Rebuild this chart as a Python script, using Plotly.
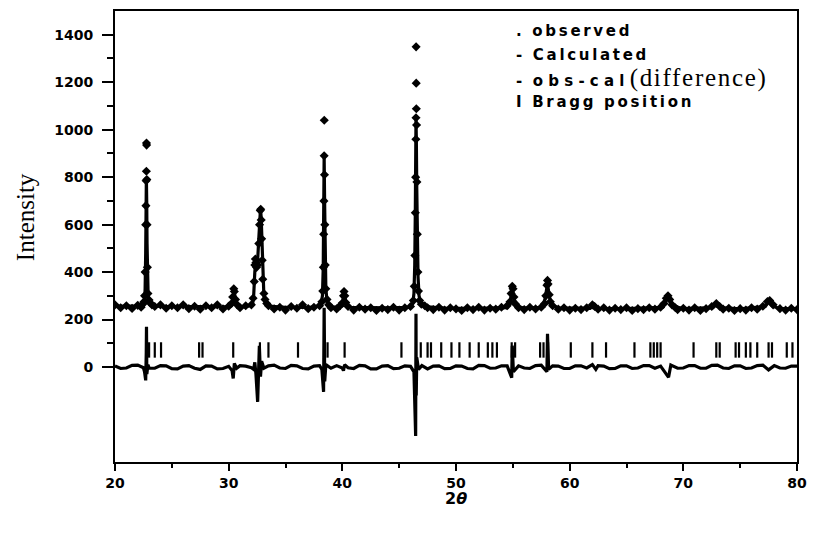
import plotly.graph_objects as go

# ---------------- data ----------------
obs_x = [20.0, 20.5, 21.0, 21.5, 22.0, 22.3, 22.5,
         22.55, 22.6, 22.65, 22.7, 22.72, 22.74, 22.76, 22.77, 22.78, 22.8, 22.82, 22.85, 22.9, 23.0, 23.1, 23.25,
         23.5, 24.0, 24.5, 25.0, 25.5, 26.0, 26.5, 27.0, 27.5, 28.0, 28.5, 29.0, 29.5, 30.0,
         30.25, 30.35, 30.45, 30.5, 30.6, 30.75,
         31.0, 31.5, 32.0,
         32.15, 32.25, 32.3, 32.35, 32.4, 32.45, 32.55, 32.65, 32.72, 32.78, 32.82, 32.86, 32.9, 32.95, 33.0, 33.1, 33.2, 33.35,
         33.5, 34.0, 34.5, 35.0, 35.5, 36.0, 36.5, 37.0, 37.5, 38.0,
         38.2, 38.28, 38.33, 38.36, 38.38, 38.4, 38.41, 38.43, 38.46, 38.5, 38.55, 38.65, 38.8,
         39.0, 39.5, 39.8,
         40.0, 40.1, 40.15, 40.22, 40.3, 40.5,
         41.0, 41.5, 42.0, 42.5, 43.0, 43.5, 44.0, 44.5, 45.0, 45.5, 46.0,
         46.25, 46.33, 46.38, 46.42, 46.45, 46.47, 46.48, 46.49, 46.5, 46.51, 46.53, 46.56, 46.6, 46.65, 46.7, 46.8, 46.95,
         47.25, 47.5, 48.0, 48.5, 49.0, 49.5, 50.0, 50.5, 51.0, 51.5, 52.0, 52.5, 53.0, 53.5, 54.0, 54.5,
         54.75, 54.85, 54.95, 55.02, 55.1, 55.25,
         55.5, 56.0, 56.5, 57.0, 57.5,
         57.8, 57.9, 58.0, 58.05, 58.1, 58.2, 58.3, 58.5,
         59.0, 59.5, 60.0, 60.5, 61.0, 61.5, 62.0, 62.2, 62.5, 63.0, 63.5, 64.0, 64.5, 65.0, 65.5, 66.0, 66.5, 67.0, 67.5, 68.0,
         68.3, 68.5, 68.65, 68.8, 69.0, 69.3,
         69.5, 70.0, 70.5, 71.0, 71.5, 72.0, 72.5, 72.9, 73.2, 73.5, 74.0, 74.5, 75.0, 75.5, 76.0, 76.5, 77.0,
         77.4, 77.6, 77.9, 78.5, 79.0, 79.5, 80.0]
obs_y = [262, 250, 258, 247, 260, 252, 268,
         275, 300, 400, 600, 680, 785, 825, 944, 935, 790, 600, 420, 310, 282, 270, 262,
         255, 262, 248, 258, 250, 262, 246, 256, 244, 258, 250, 262, 245, 256,
         268, 295, 330, 318, 285, 262,
         250, 258, 262,
         290, 360, 430, 455, 440, 420, 430, 520, 600, 660, 665, 620, 540, 450, 370, 310, 285, 268,
         258, 245, 252, 240, 255, 248, 262, 246, 252, 258,
         275, 320, 420, 560, 700, 890, 1040, 810, 600, 430, 330, 285, 262,
         250, 245, 258,
         270, 300, 318, 300, 272, 255,
         240, 252, 244, 250, 238, 248, 242, 252, 240, 250, 255,
         280, 340, 470, 650, 800, 960, 1050, 1349, 1196, 1088, 1020, 780, 560, 400, 320, 280, 265,
         258, 250, 242, 252, 240, 250, 245, 238, 250, 242, 252, 240, 248, 244, 252, 258,
         275, 310, 340, 330, 295, 265,
         250, 242, 252, 245, 252,
         268, 300, 345, 365, 350, 305, 275, 258,
         244, 250, 240, 248, 242, 250, 262, 255, 244, 250, 240, 248, 242, 250, 238, 246, 242, 250, 244, 252,
         268, 290, 300, 285, 262, 250,
         242, 248, 240, 250, 238, 246, 255, 268, 255, 244, 248, 238, 246, 240, 250, 244, 256,
         276, 280, 262, 246, 240, 248, 242]

cal_x = [20.0, 21.0, 22.0, 22.5, 22.6, 22.65, 22.7, 22.73, 22.76, 22.79, 22.82, 22.86, 22.92, 23.0, 23.2,
         24.0, 26.0, 28.0, 30.0, 30.3, 30.4, 30.47, 30.55, 30.65, 30.8, 31.5,
         32.1, 32.2, 32.3, 32.38, 32.45, 32.55, 32.65, 32.75, 32.8, 32.86, 32.93, 33.0, 33.1, 33.25, 33.5,
         35.0, 37.0, 38.1, 38.25, 38.32, 38.37, 38.4, 38.44, 38.48, 38.55, 38.65, 38.85, 39.5,
         40.0, 40.1, 40.17, 40.25, 40.35, 40.6, 42.0, 44.0,
         46.0, 46.2, 46.3, 46.37, 46.42, 46.46, 46.48, 46.51, 46.55, 46.6, 46.66, 46.75, 46.9, 47.2,
         49.0, 52.0, 54.5, 54.8, 54.95, 55.1, 55.3, 56.0, 57.6, 57.85, 58.05, 58.2, 58.4, 59.0,
         61.8, 62.1, 62.4, 65.0, 68.2, 68.45, 68.65, 68.85, 69.1, 70.0,
         72.6, 72.9, 73.2, 75.0, 77.2, 77.5, 77.8, 78.5, 80.0]
cal_y = [256, 256, 256, 258, 275, 330, 480, 640, 800, 700, 520, 360, 290, 268, 260,
         256, 255, 254, 254, 262, 290, 322, 300, 268, 257, 254,
         262, 300, 400, 445, 430, 450, 540, 640, 668, 630, 500, 380, 300, 268, 257,
         252, 251, 258, 300, 420, 650, 885, 700, 480, 330, 280, 258, 251,
         258, 295, 312, 290, 262, 252, 250, 249,
         252, 268, 310, 430, 650, 880, 1045, 960, 750, 540, 380, 300, 268, 255,
         248, 247, 250, 285, 332, 290, 258, 248, 252, 290, 352, 300, 262, 249,
         247, 258, 247, 246, 252, 280, 298, 280, 256, 246,
         250, 265, 250, 245, 255, 278, 258, 246, 245]

diff_x = [20.0, 20.5, 21.0, 21.5, 22.0, 22.5, 22.6, 22.7, 22.75, 22.77, 22.8, 22.9, 23.0, 23.5, 24.0, 24.5, 25.0,
          25.5, 26.0, 26.5, 27.0, 27.5, 28.0, 28.5, 29.0, 29.5, 30.0, 30.3, 30.4, 30.5, 30.7, 31.0, 31.5, 32.0,
          32.2, 32.3, 32.4, 32.55, 32.6, 32.7, 32.8, 32.9, 33.1, 33.5, 34.0, 34.5, 35.0, 35.5, 36.0, 36.5, 37.0,
          37.5, 38.0, 38.2, 38.35, 38.4, 38.45, 38.55, 39.0, 39.5, 40.0, 40.1, 40.2, 40.5, 41.0, 41.5, 42.0,
          42.5, 43.0, 43.5, 44.0, 44.5, 45.0, 45.5, 46.0, 46.3, 46.45, 46.48, 46.5, 46.55, 46.7, 47.0, 47.5,
          48.0, 48.5, 49.0, 49.5, 50.0, 50.5, 51.0, 51.5, 52.0, 52.5, 53.0, 53.5, 54.0, 54.5, 54.9, 54.95,
          55.05, 55.5, 56.0, 56.5, 57.0, 57.5, 58.0, 58.05, 58.15, 58.5, 59.0, 59.5, 60.0, 60.5, 61.0, 61.5,
          62.0, 62.3, 62.5, 63.0, 63.5, 64.0, 64.5, 65.0, 65.5, 66.0, 66.5, 67.0, 67.5, 68.0, 68.5, 68.7,
          68.9, 69.5, 70.0, 70.5, 71.0, 71.5, 72.0, 72.5, 73.0, 73.5, 74.0, 74.5, 75.0, 75.5, 76.0, 76.5,
          77.0, 77.5, 78.0, 78.5, 79.0, 79.5, 80.0]
diff_y = [5, -6, -4, 7, 8, -3, -20, -56, 60, 170, -30, 10, -4, -5, 6, 5, -7,
          -8, 4, 6, -5, -10, 5, 4, -8, -6, 3, -15, -48, 15, -5, 6, 4, -3,
          -10, 20, -30, -147, -60, 90, -40, 25, -5, 5, 8, -4, -6, 7, 5, -6, -8,
          4, 6, -10, -105, 250, -60, 10, -5, 6, -4, -15, 10, -3, -6, 7, 5,
          -8, -8, 4, 6, -7, -5, 5, 3, -20, -290, 225, -120, 40, -10, 6, -8,
          4, 5, -7, -6, 5, 4, -6, -8, 7, 6, -5, -4, 5, 5, -45, 90,
          -20, 5, -4, -6, 6, 8, -20, 140, -10, 5, 4, -6, -6, 5, 5, -4,
          10, -10, 6, 4, -7, -6, 5, 5, -6, -4, 6, 6, -5, 4, -30, -43,
          8, -5, -4, 6, 6, -5, -5, 7, 8, -4, -6, 5, 5, -6, -4, 6,
          8, -12, 6, -4, -5, 4, 4]

bragg_x = [23.0, 23.5, 24.05, 27.4, 27.7, 30.4, 32.75, 33.5, 36.1, 38.7, 40.2, 45.2, 46.9, 47.5, 47.8,
           48.7, 49.6, 50.3, 51.2, 52.0, 52.8, 53.2, 53.6, 54.9, 55.2, 57.4, 57.7, 58.1, 60.1, 62.0,
           63.2, 65.7, 67.1, 67.4, 67.7, 68.0, 70.9, 72.9, 73.2, 74.6, 74.9, 75.5, 75.9, 76.5, 77.5,
           77.8, 79.1, 79.6]
bragg_level = 72

x_ticks = [20, 30, 40, 50, 60, 70, 80]
y_ticks = [0, 200, 400, 600, 800, 1000, 1200, 1400]
y_minor = [100, 300, 500, 700, 900, 1100, 1300]

# ---------------- figure ----------------
fig = go.Figure()
fig.add_trace(go.Scatter(x=diff_x, y=diff_y, mode="lines",
                         line=dict(color="black", width=3.2), showlegend=False))
fig.add_trace(go.Scatter(x=bragg_x, y=[bragg_level] * len(bragg_x), mode="markers",
                         marker=dict(symbol="line-ns", size=11, color="black",
                                     line=dict(color="black", width=2.2)),
                         showlegend=False))
fig.add_trace(go.Scatter(x=cal_x, y=cal_y, mode="lines",
                         line=dict(color="black", width=3.2), showlegend=False))
fig.add_trace(go.Scatter(x=obs_x, y=obs_y, mode="markers",
                         marker=dict(symbol="diamond", size=7, color="black"),
                         showlegend=False))

tick_font = dict(family="DejaVu Sans", size=14, color="black", weight="bold")

fig.update_xaxes(range=[20, 80], tickvals=x_ticks, ticks="outside", ticklen=7, tickwidth=2,
                 tickcolor="black", showline=True, linecolor="black", linewidth=2, mirror=True,
                 showgrid=False, zeroline=False, tickfont=tick_font, ticklabelstandoff=0,
                 minor=dict(dtick=5, tick0=20, ticks="outside", ticklen=4, tickwidth=2, tickcolor="black"))
fig.update_yaxes(range=[-400, 1500], tickvals=y_ticks, ticks="outside", ticklen=11, tickwidth=2,
                 tickcolor="black", showline=True, linecolor="black", linewidth=2, mirror=True,
                 showgrid=False, zeroline=False, tickfont=tick_font, ticklabelstandoff=6,
                 minor=dict(tickvals=y_minor, ticks="outside", ticklen=6, tickwidth=2, tickcolor="black"))

SP = "letter-spacing:2.7px"
annotations = [
    dict(text="Intensity", x=24, y=216, xanchor="center", textangle=-90,
         font=dict(family="Liberation Serif", size=25, color="black")),
    dict(text="<b>2<i>θ</i></b>", x=460, y=499, xanchor="center",
         font=dict(family="DejaVu Sans", size=16, color="black")),
    dict(text=f"<span style='{SP}'><b>. observed</b></span>", x=519, y=29, xanchor="left",
         font=dict(family="DejaVu Sans", size=15, color="black")),
    dict(text=f"<span style='{SP}'><b>- Calculated</b></span>", x=519, y=53, xanchor="left",
         font=dict(family="DejaVu Sans", size=15, color="black")),
    dict(text="<span style='letter-spacing:2.7px'><b>- </b></span>"
              "<span style='letter-spacing:5.2px'><b>obs-cal</b></span>"
              "<span style='font-family:Liberation Serif;font-size:25px;letter-spacing:1.7px'>(difference)</span>",
         x=519, y=76, xanchor="left",
         font=dict(family="DejaVu Sans", size=15, color="black")),
    dict(text=f"<span style='{SP}'><b>I Bragg position</b></span>", x=519, y=100, xanchor="left",
         font=dict(family="DejaVu Sans", size=15, color="black")),
]
# convert pixel positions to paper coordinates
W, H = 816, 533
L, R, T, B = 115, 11, 9, 71
pw, ph = W - L - R, H - T - B
for a in annotations:
    a["x"] = (a["x"] - L) / pw
    a["y"] = 1 - (a["y"] - T) / ph
    a["xref"] = "paper"
    a["yref"] = "paper"
    a["yanchor"] = "middle"
    a["showarrow"] = False

fig.update_layout(width=W, height=H, margin=dict(l=L, r=R, t=T, b=B),
                  paper_bgcolor="white", plot_bgcolor="white", showlegend=False,
                  annotations=annotations)

fig.write_html("out.html")
